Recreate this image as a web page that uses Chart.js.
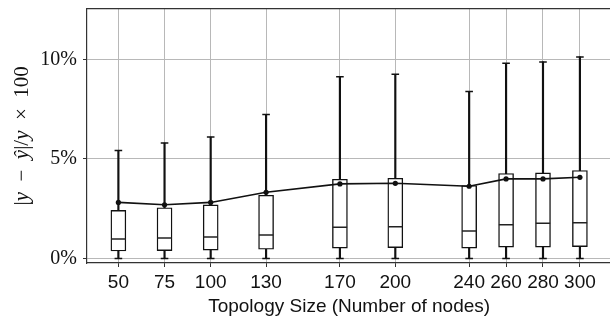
<!DOCTYPE html>
<html>
<head>
<meta charset="utf-8">
<script src="https://cdn.jsdelivr.net/npm/chart.js@4.4.1/dist/chart.umd.min.js"></script>
<style>
  html, body { margin: 0; padding: 0; background: #fff; }
  #wrap { width: 610px; height: 320px; overflow: hidden; position: relative; }
  canvas { display: block; }
</style>
</head>
<body>
<div id="wrap"><canvas id="c" width="620" height="320"></canvas></div>
<script>
// Topology sizes (x positions)
const sizes = [50, 75, 100, 130, 170, 200, 240, 260, 280, 300];
// Box plot statistics (percent)
const whiskerLow = [0, 0, 0, 0, 0, 0, 0, 0, 0, 0];
const q1 = [0.38, 0.40, 0.43, 0.47, 0.53, 0.55, 0.53, 0.58, 0.58, 0.60];
const medians = [0.98, 1.03, 1.08, 1.18, 1.57, 1.60, 1.38, 1.70, 1.77, 1.80];
const q3 = [2.42, 2.55, 2.70, 3.18, 3.98, 4.03, 3.67, 4.27, 4.30, 4.42];
const whiskerHigh = [5.43, 5.80, 6.10, 7.23, 9.12, 9.25, 8.38, 9.80, 9.87, 10.12];
const means = [2.82, 2.70, 2.82, 3.33, 3.75, 3.78, 3.63, 4.00, 4.00, 4.08];
// Axis ticks
const xTicks = [50, 75, 100, 130, 170, 200, 240, 260, 280, 300];
const yTicks = [0, 5, 10];
const xTitle = 'Topology Size (Number of nodes)';
// y-axis title pieces: [text, italic?]
const yTitleParts = [['|', false], ['y', true], ['\u2002\u2212\u2002', false], ['y\u0302', true], ['|/', false], ['y', true], ['\u2002\u00d7\u2002100', false]];

const ink = '#111111';
const gridColor = '#b8b8b8';

const whiskerData = sizes.map((s, i) => ({ x: s, y: [whiskerLow[i], whiskerHigh[i]] }));
const boxData = sizes.map((s, i) => ({ x: s, y: [q1[i], q3[i]] }));
const medianData = sizes.map((s, i) => ({ x: s, y: medians[i] }));
const capData = sizes.flatMap((s, i) => [{ x: s, y: whiskerLow[i] }, { x: s, y: whiskerHigh[i] }]);
const meanData = sizes.map((s, i) => ({ x: s, y: means[i] }));

new Chart(document.getElementById('c'), {
  type: 'bar',
  data: {
    datasets: [
      {
        type: 'bar', label: 'whiskers', data: whiskerData, grouped: false,
        barThickness: 1.5, backgroundColor: ink, borderWidth: 0, order: 5
      },
      {
        type: 'bar', label: 'boxes', data: boxData, grouped: false,
        barThickness: 15, backgroundColor: '#ffffff', borderColor: ink,
        borderWidth: 1.4, borderSkipped: false, order: 4
      },
      {
        type: 'line', label: 'caps', data: capData, showLine: false,
        pointStyle: 'line', pointRadius: 3.8, pointBorderWidth: 1.5,
        pointBorderColor: ink, pointHoverRadius: 3.8, order: 3
      },
      {
        type: 'line', label: 'medians', data: medianData, showLine: false,
        pointStyle: 'line', pointRadius: 7.2, pointBorderWidth: 1.5,
        pointBorderColor: '#222222', pointHoverRadius: 7.2, order: 2
      },
      {
        type: 'line', label: 'mean', data: meanData, showLine: true,
        borderColor: ink, borderWidth: 1.6, tension: 0,
        pointRadius: 2.6, pointBackgroundColor: ink, pointBorderColor: ink,
        pointBorderWidth: 0, order: 1
      }
    ]
  },
  options: {
    responsive: false,
    devicePixelRatio: 1,
    animation: false,
    layout: { padding: { left: 0, top: 8, right: 8, bottom: 0 } },
    plugins: { legend: { display: false }, tooltip: { enabled: false } },
    scales: {
      x: {
        type: 'linear', min: 33, max: 317, offset: false,
        afterBuildTicks: (s) => { s.ticks = xTicks.map(v => ({ value: v })); },
        afterFit: (s) => { s.height = 57; s.paddingLeft = 0; s.paddingRight = 0; },
        grid: { color: gridColor, lineWidth: 1, tickLength: 4, tickColor: '#333', offset: false },
        border: { display: true, color: '#333333', width: 1.2 },
        ticks: {
          color: '#111', padding: 4, maxRotation: 0, autoSkip: false,
          font: { family: 'Liberation Sans', size: 19 },
          callback: (v) => String(v)
        },
        title: {
          display: true, text: xTitle, color: '#111',
          font: { family: 'Liberation Sans', size: 19 },
          padding: { top: 0, bottom: 2 }
        }
      },
      y: {
        type: 'linear', min: -0.22, max: 12.54,
        afterBuildTicks: (s) => { s.ticks = yTicks.map(v => ({ value: v })); },
        afterFit: (s) => { s.width = 87; s.paddingTop = 0; s.paddingBottom = 0; },
        grid: { color: gridColor, lineWidth: 1, tickLength: 4, tickColor: '#333' },
        border: { display: true, color: '#333333', width: 1.2 },
        ticks: {
          color: '#111', padding: 6,
          font: { family: 'Liberation Serif', size: 20 },
          callback: (v) => v + '%'
        },
        title: { display: false }
      }
    }
  },
  plugins: [{
    id: 'frameAndYTitle',
    afterDraw(chart) {
      const { ctx, chartArea: a } = chart;
      ctx.save();
      ctx.strokeStyle = '#333333';
      ctx.lineWidth = 1.2;
      ctx.beginPath();
      ctx.moveTo(a.left, a.top);
      ctx.lineTo(a.right, a.top);
      ctx.stroke();
      ctx.restore();

      // y-axis title with math-style italics
      const size = 21;
      const fontFor = (it) => (it ? 'italic ' : '') + size + 'px "Liberation Serif"';
      ctx.save();
      let total = 0;
      const widths = yTitleParts.map(([t, it]) => { ctx.font = fontFor(it); const w = ctx.measureText(t).width; total += w; return w; });
      const cy = (a.top + a.bottom) / 2;
      ctx.translate(22, cy);
      ctx.rotate(-Math.PI / 2);
      ctx.fillStyle = '#111';
      ctx.textBaseline = 'middle';
      ctx.textAlign = 'left';
      let x = -total / 2;
      yTitleParts.forEach(([t, it], i) => { ctx.font = fontFor(it); ctx.fillText(t, x, 0); x += widths[i]; });
      ctx.restore();
    }
  }]
});
</script>
</body>
</html>
